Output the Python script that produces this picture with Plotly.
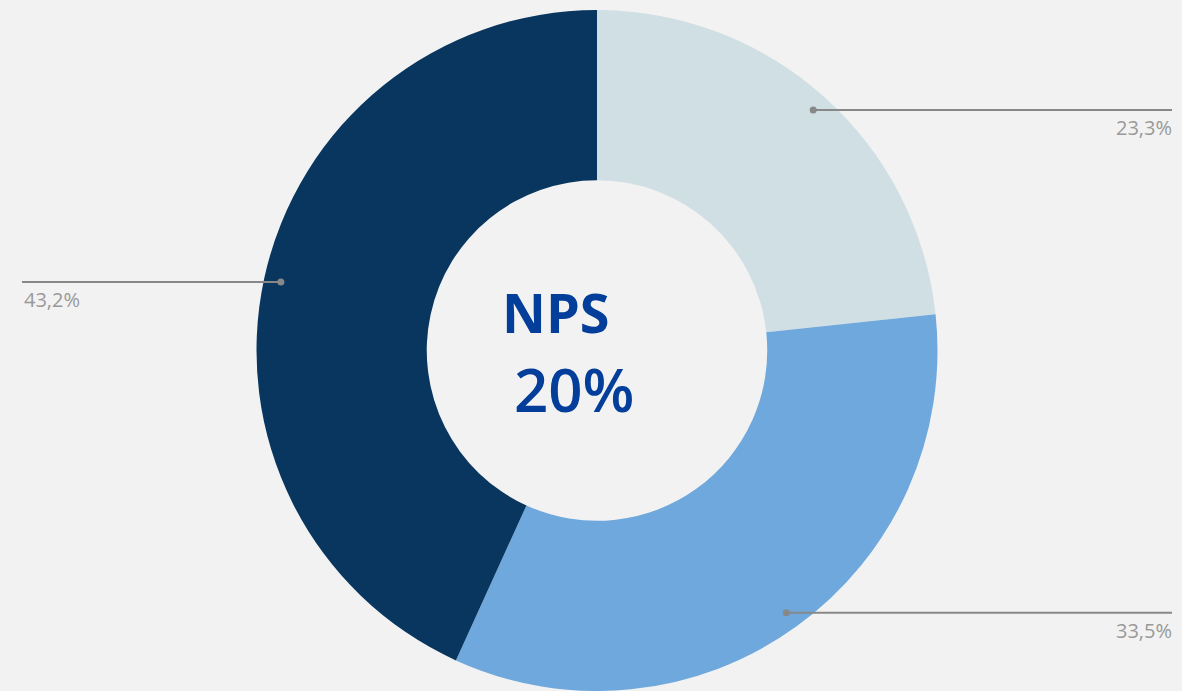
import math
import plotly.graph_objects as go

labels = ["Grupo A", "Grupo B", "Grupo C"]
values = [23.3, 33.5, 43.2]
value_text = ["23,3%", "33,5%", "43,2%"]
colors = ["#D0DFE3", "#6FA8DC", "#08365F"]
center_title = "NPS"
center_value = "20%"

W, H = 1182, 691
R = 340.5
cx, cy = 597, 350.5  # pixels from top-left

fig = go.Figure(go.Pie(
    labels=labels, values=values, hole=0.5, sort=False, direction="clockwise",
    rotation=0, marker=dict(colors=colors, line=dict(width=0)),
    textinfo="none", hoverinfo="label+percent",
    domain=dict(x=[(cx - R - 200) / W, (cx + R + 200) / W], y=[0, 2 * R / H]),
    showlegend=False,
))

shapes = []
annotations = []
total = sum(values)
cum = 0
for v, t in zip(values, value_text):
    mid = (cum + v / 2) / total * 2 * math.pi
    cum += v
    px = cx + 0.95 * R * math.sin(mid)
    py = cy - 0.95 * R * math.cos(mid)
    right = math.sin(mid) > 0
    ex = 1172 if right else 22
    xp, yp = px / W, 1 - py / H
    shapes.append(dict(type="line", xref="paper", yref="paper", x0=xp, y0=yp, x1=ex / W, y1=yp,
                       line=dict(color="#888888", width=2)))
    shapes.append(dict(type="circle", xref="paper", yref="paper",
                       x0=(px - 3.5) / W, x1=(px + 3.5) / W, y0=yp - 3.5 / H, y1=yp + 3.5 / H,
                       fillcolor="#888888", line=dict(width=0)))
    annotations.append(dict(text=t, xref="paper", yref="paper", x=(ex + 2 if right else ex) / W,
                            y=yp - 2 / H,
                            xanchor="right" if right else "left", yanchor="top", showarrow=False,
                            font=dict(family="Open Sans", size=20, color="#999999")))

annotations.append(dict(text=center_title, xref="paper", yref="paper", x=500 / W, y=1 - 351 / H,
                        xanchor="left", yanchor="bottom", showarrow=False,
                        font=dict(family="Open Sans", size=54, color="#023E9A", weight=700)))
annotations.append(dict(text=center_value, xref="paper", yref="paper", x=512 / W, y=1 - 346 / H,
                        xanchor="left", yanchor="top", showarrow=False,
                        font=dict(family="Open Sans", size=60, color="#023E9A", weight=600)))

fig.update_layout(
    width=W, height=H, margin=dict(l=0, r=0, t=0, b=0),
    paper_bgcolor="#F2F2F2", plot_bgcolor="#F2F2F2",
    shapes=shapes, annotations=annotations,
)
fig.write_html("out.html", config={"displayModeBar": False},
               post_script="document.body.style.margin='0';document.body.style.background='#F2F2F2';document.body.style.overflow='hidden';")
